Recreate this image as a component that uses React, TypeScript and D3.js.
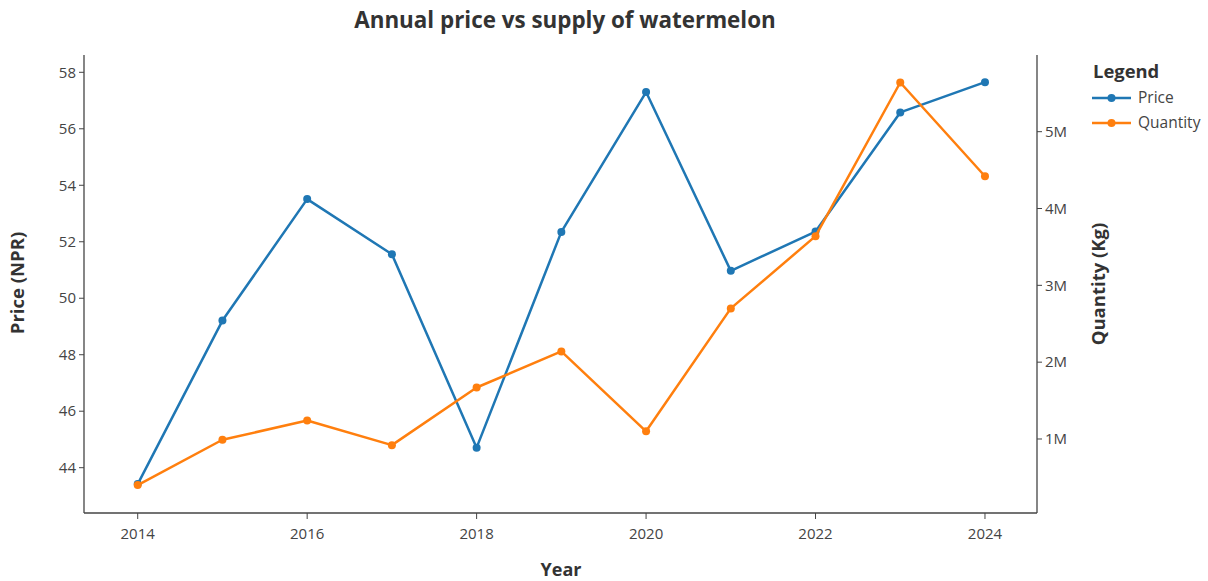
import React from "react";
import * as d3 from "d3";

const years = [2014, 2015, 2016, 2017, 2018, 2019, 2020, 2021, 2022, 2023, 2024];
const price = [43.42, 49.21, 53.51, 51.56, 44.71, 52.35, 57.3, 50.97, 52.36, 56.58, 57.65];
const quantity = [400000, 990000, 1240000, 920000, 1670000, 2140000, 1100000, 2700000, 3640000, 5640000, 4420000];
const xTicks = [2014, 2016, 2018, 2020, 2022, 2024];
const priceTicks = [44, 46, 48, 50, 52, 54, 56, 58];
const qtyTicks = [1000000, 2000000, 3000000, 4000000, 5000000];
const seriesNames = ["Price", "Quantity"];

const W = 1208;
const H = 581;
const FONT = "'Open Sans', sans-serif";
const TEXT = "#444";
const BLUE = "#1f77b4";
const ORANGE = "#ff7f0e";

export default function App() {
  const left = 84, right = 1037, top = 55, bottom = 513;
  const x = d3.scaleLinear().domain([2013.366, 2024.614]).range([left, right]);
  const yP = d3.scaleLinear().domain([42.396, 58.613]).range([bottom, top]);
  const yQ = d3.scaleLinear().domain([36800, 5998000]).range([bottom, top]);
  const lineP = d3.line<number>().x((_, i) => x(years[i])).y((d) => yP(d));
  const lineQ = d3.line<number>().x((_, i) => x(years[i])).y((d) => yQ(d));
  const fmtM = (v: number) => `${v / 1e6}M`;

  return (
    <svg width={W} height={H} style={{ position: "absolute", left: 0, top: 0, background: "#fff" }} fontFamily={FONT}>
      <rect width={W} height={H} fill="#fff" />
      <text x={565} y={28} textAnchor="middle" fontSize={22.4} fontWeight={700} fill="#333">
        Annual price vs supply of watermelon
      </text>

      {/* axes lines */}
      <line x1={left} x2={left} y1={top} y2={bottom} stroke={TEXT} strokeWidth={1.3} />
      <line x1={right} x2={right} y1={top} y2={bottom} stroke={TEXT} strokeWidth={1.3} />
      <line x1={left} x2={right} y1={bottom} y2={bottom} stroke={TEXT} strokeWidth={1.3} />

      {/* x ticks */}
      {xTicks.map((t) => (
        <g key={t}>
          <line x1={x(t)} x2={x(t)} y1={bottom} y2={bottom + 6} stroke={TEXT} strokeWidth={1} />
          <text x={x(t)} y={bottom + 26} textAnchor="middle" fontSize={15} fill={TEXT}>{t}</text>
        </g>
      ))}
      {/* left ticks */}
      {priceTicks.map((t) => (
        <g key={t}>
          <line x1={left - 5} x2={left} y1={yP(t)} y2={yP(t)} stroke={TEXT} strokeWidth={1} />
          <text x={left - 8} y={yP(t)} dy="0.35em" textAnchor="end" fontSize={15} fill={TEXT}>{t}</text>
        </g>
      ))}
      {/* right ticks */}
      {qtyTicks.map((t) => (
        <g key={t}>
          <line x1={right} x2={right + 5} y1={yQ(t)} y2={yQ(t)} stroke={TEXT} strokeWidth={1} />
          <text x={right + 8} y={yQ(t)} dy="0.35em" textAnchor="start" fontSize={15} fill={TEXT}>{fmtM(t)}</text>
        </g>
      ))}

      {/* axis titles */}
      <text x={561} y={576} textAnchor="middle" fontSize={18} fontWeight={700} fill="#333">Year</text>
      <text transform={`translate(24,283) rotate(-90)`} textAnchor="middle" fontSize={18.5} fontWeight={700} fill="#333">Price (NPR)</text>
      <text transform={`translate(1105,284) rotate(-90)`} textAnchor="middle" fontSize={18.5} fontWeight={700} fill="#333">Quantity (Kg)</text>

      {/* series */}
      <path d={lineP(price) || ""} fill="none" stroke={BLUE} strokeWidth={2.5} strokeLinejoin="round" />
      {price.map((v, i) => (
        <circle key={i} cx={x(years[i])} cy={yP(v)} r={4} fill={BLUE} />
      ))}
      <path d={lineQ(quantity) || ""} fill="none" stroke={ORANGE} strokeWidth={2.5} strokeLinejoin="round" />
      {quantity.map((v, i) => (
        <circle key={i} cx={x(years[i])} cy={yQ(v)} r={4} fill={ORANGE} />
      ))}

      {/* legend */}
      <text x={1093} y={78} fontSize={18.4} fontWeight={700} fill="#333">Legend</text>
      {seriesNames.map((n, i) => {
        const cy = 98 + i * 25;
        const c = i === 0 ? BLUE : ORANGE;
        return (
          <g key={n}>
            <line x1={1092} x2={1131} y1={cy} y2={cy} stroke={c} strokeWidth={2.5} />
            <circle cx={1111.5} cy={cy} r={4} fill={c} />
            <text x={1138} y={cy} dy="0.35em" fontSize={15.5} fill={TEXT}>{n}</text>
          </g>
        );
      })}
    </svg>
  );
}
